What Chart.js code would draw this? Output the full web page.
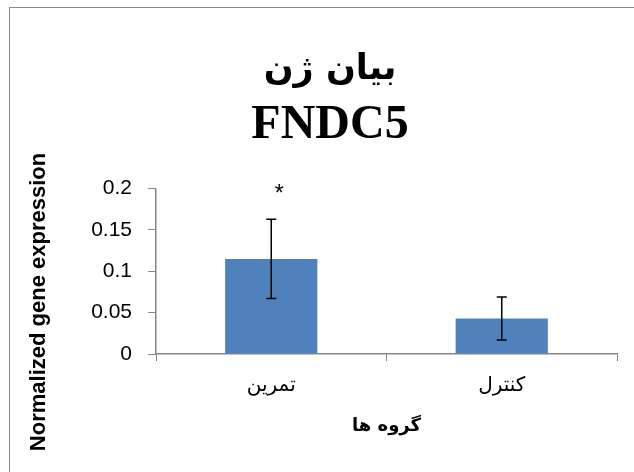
<!DOCTYPE html>
<html>
<head>
<meta charset="utf-8">
<script src="https://cdn.jsdelivr.net/npm/chart.js@4"></script>
<style>
  html, body { margin: 0; padding: 0; background: #fff; }
  #wrap { position: relative; width: 634px; height: 472px; overflow: hidden; }
  #frame { position: absolute; left: 9px; top: 7px; width: 700px; height: 600px; border: 1.5px solid #8a8a8a; box-sizing: border-box; }
  #c { position: absolute; left: 0; top: 0; }
</style>
</head>
<body>
<div id="wrap">
  <div id="frame"></div>
  <canvas id="c" width="634" height="472"></canvas>
</div>
<script>
// chart data
const groups = ['تمرین', 'کنترل'];
const means = [0.115, 0.043];
const errors = [0.048, 0.026];
const stars = ['*', ''];
const starLevel = 0.2;
const yTicks = [0, 0.05, 0.1, 0.15, 0.2];

const titleFa = 'بیان ژن';
const titleGene = 'FNDC5';
const xTitle = 'گروه ها';
const yTitle = 'Normalized gene expression';

const BAR_BLUE = '#4F81BD';
const AXIS_GREY = '#868686';

// error bars + significance mark, placed through the scales
const errorBarPlugin = {
  id: 'errorBars',
  afterDatasetsDraw(chart) {
    const ctx = chart.ctx;
    const y = chart.scales.y;
    const meta = chart.getDatasetMeta(0);
    ctx.save();
    ctx.strokeStyle = '#000';
    ctx.lineWidth = 1.5;
    meta.data.forEach((bar, i) => {
      const top = y.getPixelForValue(means[i] + errors[i]);
      const bot = y.getPixelForValue(means[i] - errors[i]);
      const cap = 5;
      ctx.beginPath();
      ctx.moveTo(bar.x, top); ctx.lineTo(bar.x, bot);
      ctx.moveTo(bar.x - cap, top); ctx.lineTo(bar.x + cap, top);
      ctx.moveTo(bar.x - cap, bot); ctx.lineTo(bar.x + cap, bot);
      ctx.stroke();

      if (stars[i]) {
        ctx.fillStyle = '#000';
        ctx.font = '23px "Liberation Sans"';
        ctx.textAlign = 'center';
        ctx.textBaseline = 'middle';
        ctx.fillText(stars[i], bar.x + 8, y.getPixelForValue(starLevel) + 6);
      }
    });
    ctx.restore();
  }
};

// y axis title sits lower than the plot middle in the original
const yTitlePlugin = {
  id: 'yTitle',
  afterDraw(chart) {
    const ctx = chart.ctx;
    ctx.save();
    ctx.translate(39, 302);
    ctx.rotate(-Math.PI / 2);
    ctx.font = 'bold 22px "Liberation Sans"';
    ctx.fillStyle = '#000';
    ctx.textAlign = 'center';
    ctx.textBaseline = 'middle';
    ctx.fillText(yTitle, 0, 0);
    ctx.restore();
  }
};

new Chart(document.getElementById('c'), {
  type: 'bar',
  data: {
    labels: groups,
    datasets: [{
      data: means,
      backgroundColor: BAR_BLUE,
      borderWidth: 0,
      barPercentage: 0.4,
      categoryPercentage: 1
    }]
  },
  options: {
    responsive: false,
    animation: false,
    // left padding shifts the title centre to match the original
    layout: { padding: { left: 43, right: 17, top: 0, bottom: 0 } },
    plugins: {
      legend: { display: false },
      tooltip: { enabled: false },
      title: {
        display: true,
        text: titleFa,
        color: '#000',
        font: { family: '"DejaVu Sans"', size: 35, weight: 'bold', lineHeight: 1.2 },
        padding: { top: 49, bottom: 0 }
      },
      subtitle: {
        display: true,
        text: titleGene,
        color: '#000',
        font: { family: '"Liberation Serif"', size: 48, weight: 'bold', lineHeight: 1.2 },
        padding: { top: 6, bottom: 34 }
      }
    },
    scales: {
      x: {
        offset: true,
        grid: { offset: true, drawOnChartArea: false, color: AXIS_GREY, tickLength: 7 },
        border: { color: AXIS_GREY, width: 1.5 },
        ticks: { color: '#000', font: { family: '"DejaVu Sans"', size: 20 }, padding: 13 },
        title: {
          display: true,
          text: xTitle,
          color: '#000',
          font: { family: '"DejaVu Sans"', size: 18, weight: 'bold' },
          padding: { top: 0, bottom: 35 }
        },
        afterFit(scale) { scale.height = 118; }
      },
      y: {
        min: 0,
        max: 0.2,
        afterBuildTicks(scale) { scale.ticks = yTicks.map(v => ({ value: v })); },
        grid: { drawOnChartArea: false, color: AXIS_GREY, tickLength: 8 },
        border: { color: AXIS_GREY, width: 1.5 },
        ticks: {
          color: '#000',
          font: { family: '"Liberation Sans"', size: 21 },
          padding: 16,
          callback: v => String(+v.toFixed(2))
        },
        afterFit(scale) { scale.width = 113; }
      }
    }
  },
  plugins: [errorBarPlugin, yTitlePlugin]
});
</script>
</body>
</html>
